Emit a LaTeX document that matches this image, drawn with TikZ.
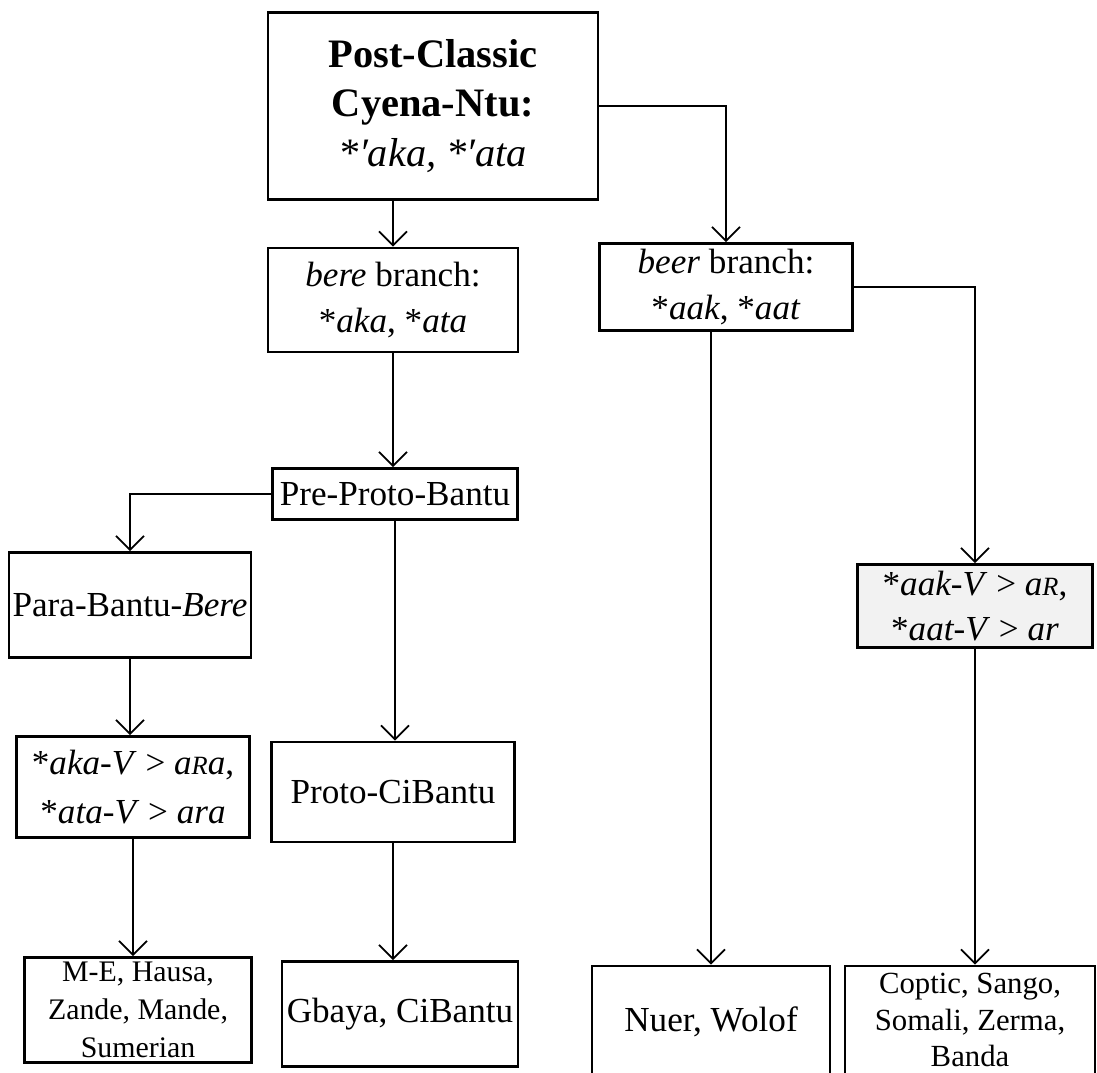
\documentclass[tikz,border=0pt]{standalone}
\usepackage{fontspec}
\setmainfont{Liberation Serif}
\usetikzlibrary{arrows.meta,positioning}
\newcommand{\smallR}{{\fontsize{15}{15}\selectfont R}}

\begin{document}
\begin{tikzpicture}[
    x=0.02cm, y=-0.02cm,
    box/.style={
      draw, line width=1.5pt, align=center, inner sep=2pt,
      font=\fontsize{20}{26}\selectfont
    },
    topbox/.style={box, font=\fontsize{23}{28}\selectfont},
    formbox/.style={box, font=\fontsize{20}{28}\selectfont},
    langbox/.style={box, font=\fontsize{17}{21.5}\selectfont},
    arr/.style={-{Straight Barb[length=2.8mm,width=5.6mm]}, line width=1pt},
  ]
  \clip (0,0) rectangle (1097,1072);

  % Root
  \node[topbox, minimum width=6.6cm, minimum height=3.74cm] (pcc) at (433,106)
    {\textbf{Post-Classic}\\\textbf{Cyena-Ntu:}\\\textit{*′aka, *′ata}};

  % --- bere branch ---
  \node[box, minimum width=5cm, minimum height=2.08cm] (bere) at (393,300)
    {\textit{bere} branch:\\*\textit{aka}, *\textit{ata}};
  \node[box, minimum width=4.9cm, minimum height=1.02cm] (ppb) at (395,494)
    {Pre-Proto-Bantu};
  \node[box, minimum width=4.72cm, minimum height=2.1cm] (para) at (130,605)
    {Para-Bantu-\textit{Bere}};
  \node[formbox, minimum width=4.66cm, minimum height=2.02cm] (ara) at (133,787)
    {*\textit{aka-V} > \textit{a\smallR a},\\*\textit{ata-V} > \textit{ara}};
  \node[box, minimum width=4.86cm, minimum height=2cm] (pcb) at (393,792)
    {Proto-CiBantu};
  \node[langbox, minimum width=4.54cm, minimum height=2.1cm] (me) at (138,1010)
    {M-E, Hausa,\\Zande, Mande,\\Sumerian};
  \node[box, minimum width=4.72cm, minimum height=2.1cm] (gb) at (400,1014)
    {Gbaya, CiBantu};

  % --- beer branch ---
  \node[box, minimum width=5.06cm, minimum height=1.74cm] (beer) at (726,287)
    {\textit{beer} branch:\\*\textit{aak}, *\textit{aat}};
  \node[box, fill=black!5, minimum width=4.7cm, minimum height=1.66cm] (ar) at (975,606)
    {*\textit{aak-V} > \textit{a\smallR},\\*\textit{aat-V} > \textit{ar}};
  \node[box, minimum width=4.76cm, minimum height=2.24cm] (nuer) at (711,1022)
    {Nuer, Wolof};
  \node[box, font=\fontsize{17.5}{21}\selectfont, minimum width=5cm,
        minimum height=2.16cm] (cop) at (970,1020)
    {Coptic, Sango,\\Somali, Zerma,\\Banda};

  % Connectors
  \draw[arr] (pcc.south -| bere.north) -- (bere.north);
  \draw[arr] (pcc.east) -| (beer.north);
  \draw[arr] (bere.south) -- (bere.south |- ppb.north);
  \draw[arr] (ppb.west) -| (para.north);
  \draw[arr] (ppb.south) -- (ppb.south |- pcb.north);
  \draw[arr] (para.south) -- (para.south |- ara.north);
  \draw[arr] (ara.south) -- (ara.south |- me.north);
  \draw[arr] (pcb.south) -- (pcb.south |- gb.north);
  \draw[arr] (beer.south -| nuer.north) -- (nuer.north);
  \draw[arr] (beer.east) -| (ar.north);
  \draw[arr] (ar.south) -- (ar.south |- cop.north);

\end{tikzpicture}
\end{document}
